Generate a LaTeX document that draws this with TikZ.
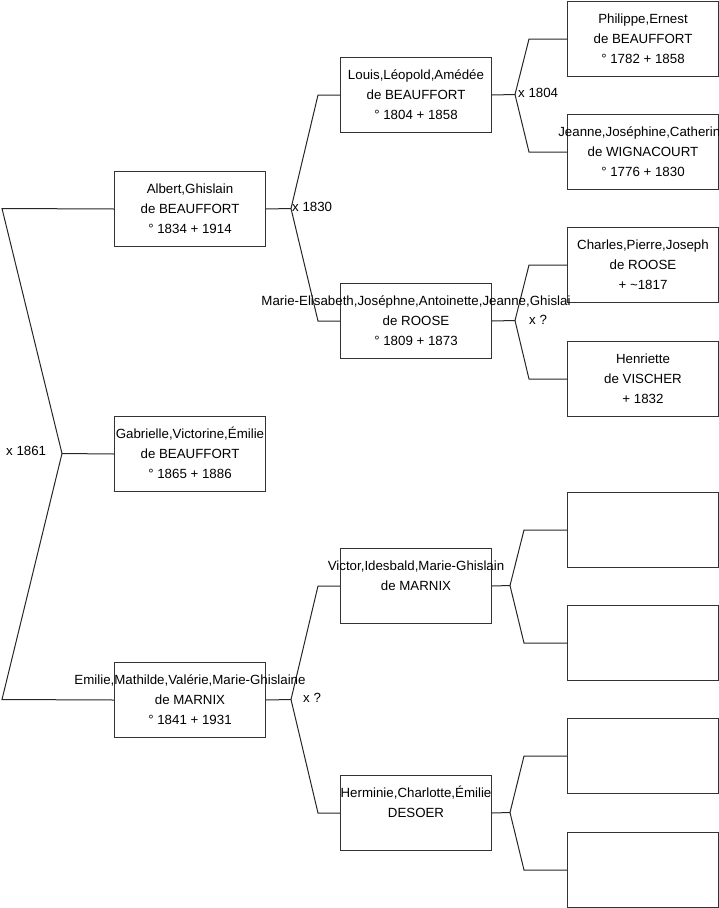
\documentclass[tikz,border=0pt]{standalone}
\usepackage{fontspec}
\setmainfont{Liberation Sans}
\usetikzlibrary{calc}
\begin{document}
\begin{tikzpicture}[x=1pt,y=-1pt,
  pbox/.style={draw=black!80,fill=white,line width=1pt,minimum width=151pt,minimum height=75pt,inner sep=0pt,anchor=north west},
  ptext/.style={font=\fontsize{13.3}{20}\selectfont,align=center,inner sep=0pt,text=black},
  conn/.style={draw=black!85,line width=1pt},
  mlabel/.style={font=\fontsize{13.3}{16}\selectfont,inner sep=0pt,anchor=west}]
\useasboundingbox (0,0) rectangle (719,908);
\clip (0,0) rectangle (719,908);
% boxes
\node[pbox] (albert) at (114,171) {};
\node[pbox] (gabr) at (114,416) {};
\node[pbox] (emilie) at (114,662) {};
\node[pbox] (louis) at (340,57) {};
\node[pbox] (marie) at (340,283) {};
\node[pbox] (victor) at (340,548) {};
\node[pbox] (hermin) at (340,775) {};
\node[pbox] (phil) at (567,1) {};
\node[pbox] (jeanne) at (567,114) {};
\node[pbox] (charles) at (567,227) {};
\node[pbox] (henr) at (567,341) {};
\node[pbox] (e1) at (567,492) {};
\node[pbox] (e2) at (567,605) {};
\node[pbox] (e3) at (567,718) {};
\node[pbox] (e4) at (567,832) {};
% fork coordinates
\coordinate (r0) at (2,208.5);
\coordinate (f0) at (62,453.5);
\coordinate (r1) at (2,699.5);
\coordinate (f1) at (291,208.5);
\coordinate (f2) at (515,94.5);
\coordinate (f3) at (515,320.5);
\coordinate (f4) at (291,699.5);
\coordinate (f5) at (510,585.5);
\coordinate (f6) at (510,812.5);
% connectors
\draw[conn] (albert.west) -- (r0) -- (f0) -- (r1) -- (emilie.west);
\draw[conn] (f0) -- (gabr.west);
\draw[conn] (albert.east) -- (f1);
\draw[conn] (louis.west) -- ++(-22,0) -- (f1) -- ($(marie.west)+(-22,0)$) -- (marie.west);
\draw[conn] (louis.east) -- (f2);
\draw[conn] (phil.west) -- ++(-38,0) -- (f2) -- ($(jeanne.west)+(-38,0)$) -- (jeanne.west);
\draw[conn] (marie.east) -- (f3);
\draw[conn] (charles.west) -- ++(-38,0) -- (f3) -- ($(henr.west)+(-38,0)$) -- (henr.west);
\draw[conn] (emilie.east) -- (f4);
\draw[conn] (victor.west) -- ++(-22,0) -- (f4) -- ($(hermin.west)+(-22,0)$) -- (hermin.west);
\draw[conn] (victor.east) -- (f5);
\draw[conn] (e1.west) -- ++(-43,0) -- (f5) -- ($(e2.west)+(-43,0)$) -- (e2.west);
\draw[conn] (hermin.east) -- (f6);
\draw[conn] (e3.west) -- ++(-43,0) -- (f6) -- ($(e4.west)+(-43,0)$) -- (e4.west);
% marriage labels
\node[mlabel] (m0) at (6,451) {x 1861};
\node[mlabel] (m1) at (292,207) {x 1830};
\node[mlabel] (m2) at (518,93) {x 1804};
\node[mlabel] (m3) at (529,320) {x ?};
\node[mlabel] (m4) at (303,698) {x ?};
% texts
\node[ptext] (talbert) at (albert.center) {\strut Albert,Ghislain\\\strut de BEAUFFORT\\\strut ° 1834 + 1914};
\node[ptext] (tgabr) at (gabr.center) {\strut Gabrielle,Victorine,Émilie\\\strut de BEAUFFORT\\\strut ° 1865 + 1886};
\node[ptext] (temilie) at (emilie.center) {\strut Emilie,Mathilde,Valérie,Marie-Ghislaine\\\strut de MARNIX\\\strut ° 1841 + 1931};
\node[ptext] (tlouis) at (louis.center) {\strut Louis,Léopold,Amédée\\\strut de BEAUFFORT\\\strut ° 1804 + 1858};
\node[ptext] (tmarie) at (marie.center) {\strut Marie-Elisabeth,Joséphne,Antoinette,Jeanne,Ghislai\\\strut de ROOSE\\\strut ° 1809 + 1873};
\node[ptext] (tvictor) at (victor.center) {\strut Victor,Idesbald,Marie-Ghislain\\\strut de MARNIX\\\strut};
\node[ptext] (thermin) at (hermin.center) {\strut Herminie,Charlotte,Émilie\\\strut DESOER\\\strut};
\node[ptext] (tphil) at (phil.center) {\strut Philippe,Ernest\\\strut de BEAUFFORT\\\strut ° 1782 + 1858};
\node[ptext] (tjeanne) at (jeanne.center) {\strut Jeanne,Joséphine,Catherine\\\strut de WIGNACOURT\\\strut ° 1776 + 1830};
\node[ptext] (tcharles) at (charles.center) {\strut Charles,Pierre,Joseph\\\strut de ROOSE\\\strut + \textasciitilde1817};
\node[ptext] (thenr) at (henr.center) {\strut Henriette\\\strut de VISCHER\\\strut + 1832};
\end{tikzpicture}
\end{document}
